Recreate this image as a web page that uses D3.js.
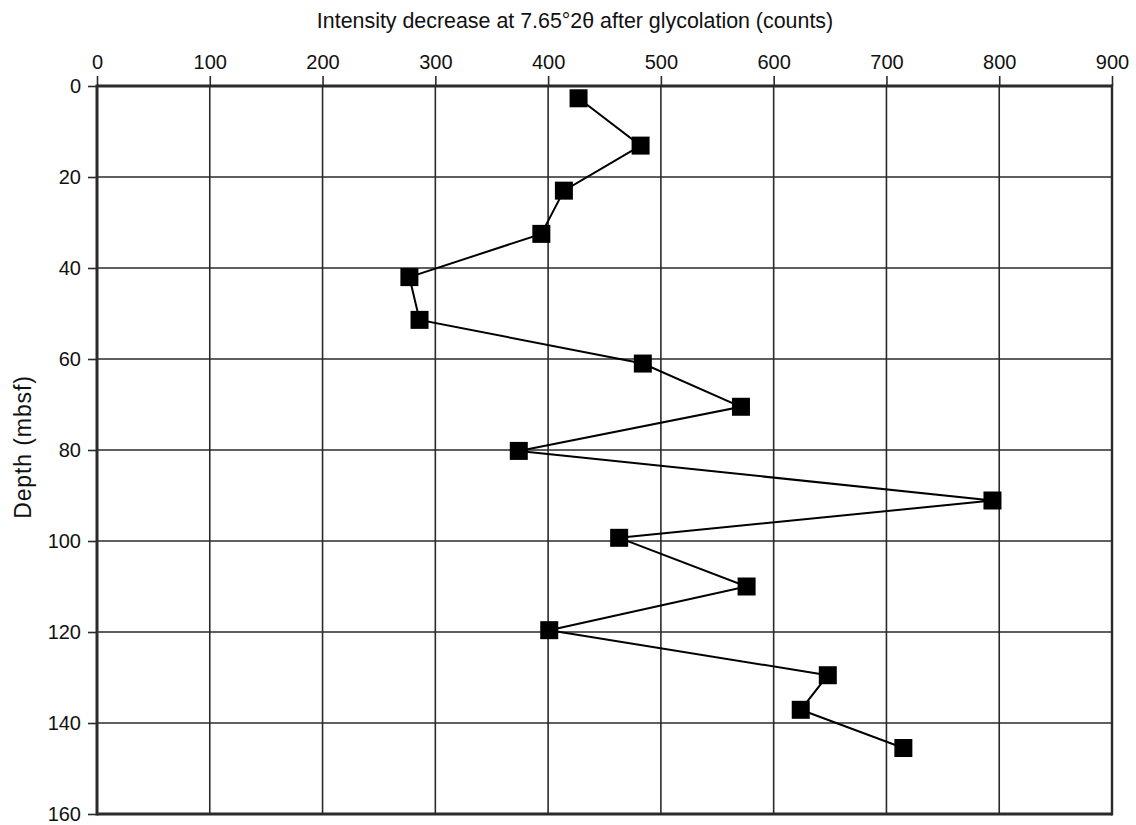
<!DOCTYPE html>
<html>
<head>
<meta charset="utf-8">
<script src="https://cdn.jsdelivr.net/npm/d3@7"></script>
<style>
  html, body { margin: 0; padding: 0; background: #fff; }
  svg { display: block; font-family: "Liberation Sans", Arial, Helvetica, sans-serif; }
</style>
</head>
<body>
<svg id="chart" width="1136" height="825"></svg>
<script>
// Glycolation intensity decrease profile with depth
const depths = [2.7, 13.1, 23.0, 32.5, 42.0, 51.4, 61.0, 70.5, 80.2, 91.1, 99.3, 110.0, 119.6, 129.5, 137.1, 145.5];
const intensity = [427, 482, 414, 394, 277, 286, 484, 571, 374, 794, 463, 576, 401, 648, 624, 715];
const xTicks = [0, 100, 200, 300, 400, 500, 600, 700, 800, 900];
const yTicks = [0, 20, 40, 60, 80, 100, 120, 140, 160];
const xTitle = "Intensity decrease at 7.65°2θ after glycolation (counts)";
const yTitle = "Depth (mbsf)";

(function () {
  const svg = d3.select("#chart");
  const mLeft = 97, mRight = 1112, mTop = 86, mBottom = 814;

  const x = d3.scaleLinear().domain([0, 900]).range([mLeft, mRight]);
  const y = d3.scaleLinear().domain([0, 160]).range([mTop, mBottom]);

  const ink = "#2a2a2a";

  // grid lines
  svg.append("g").selectAll("line").data(xTicks.slice(1, -1)).join("line")
    .attr("x1", d => x(d)).attr("x2", d => x(d))
    .attr("y1", mTop).attr("y2", mBottom)
    .attr("stroke", ink).attr("stroke-width", 1.6);
  svg.append("g").selectAll("line").data(yTicks.slice(1, -1)).join("line")
    .attr("x1", mLeft).attr("x2", mRight)
    .attr("y1", d => y(d)).attr("y2", d => y(d))
    .attr("stroke", ink).attr("stroke-width", 1.6);

  // top axis
  const xAxis = svg.append("g").attr("transform", `translate(0,${mTop})`)
    .call(d3.axisTop(x).tickValues(xTicks).tickSize(10).tickPadding(7).tickFormat(d3.format("d")));
  xAxis.select(".domain").remove();
  xAxis.selectAll(".tick line").attr("stroke", ink).attr("stroke-width", 1.6);
  xAxis.selectAll(".tick text").attr("fill", "#111").style("font-size", "20px");

  // left axis
  const yAxis = svg.append("g").attr("transform", `translate(${mLeft},0)`)
    .call(d3.axisLeft(y).tickValues(yTicks).tickSize(9).tickPadding(7).tickFormat(d3.format("d")));
  yAxis.select(".domain").remove();
  yAxis.selectAll(".tick line").attr("stroke", ink).attr("stroke-width", 1.6);
  yAxis.selectAll(".tick text").attr("fill", "#111").style("font-size", "20px");

  // frame
  svg.append("line").attr("x1", mLeft).attr("x2", mRight).attr("y1", mTop).attr("y2", mTop)
    .attr("stroke", ink).attr("stroke-width", 3);
  svg.append("line").attr("x1", mLeft).attr("x2", mRight).attr("y1", mBottom).attr("y2", mBottom)
    .attr("stroke", ink).attr("stroke-width", 3);
  svg.append("line").attr("x1", mLeft).attr("x2", mLeft).attr("y1", mTop - 1.5).attr("y2", mBottom + 1.5)
    .attr("stroke", ink).attr("stroke-width", 3);
  svg.append("line").attr("x1", mRight).attr("x2", mRight).attr("y1", mTop - 1.5).attr("y2", mBottom + 1.5)
    .attr("stroke", ink).attr("stroke-width", 2.4);

  // axis titles
  svg.append("text").attr("x", 575).attr("y", 27.5)
    .attr("text-anchor", "middle").style("font-size", "21.4px").attr("fill", "#111")
    .text(xTitle);
  svg.append("text")
    .attr("transform", `translate(31,447) rotate(-90)`)
    .attr("text-anchor", "middle").style("font-size", "23px")
    .style("letter-spacing", "0.9px").attr("fill", "#111")
    .text(yTitle);

  // profile line
  const pts = depths.map((d, i) => ({ depth: d, value: intensity[i] }));
  svg.append("path").datum(pts)
    .attr("fill", "none").attr("stroke", "#000").attr("stroke-width", 2)
    .attr("d", d3.line().x(d => x(d.value)).y(d => y(d.depth)));

  // square markers
  const s = 18;
  svg.append("g").selectAll("rect").data(pts).join("rect")
    .attr("x", d => x(d.value) - s / 2).attr("y", d => y(d.depth) - s / 2)
    .attr("width", s).attr("height", s).attr("fill", "#000");
})();
</script>
</body>
</html>
